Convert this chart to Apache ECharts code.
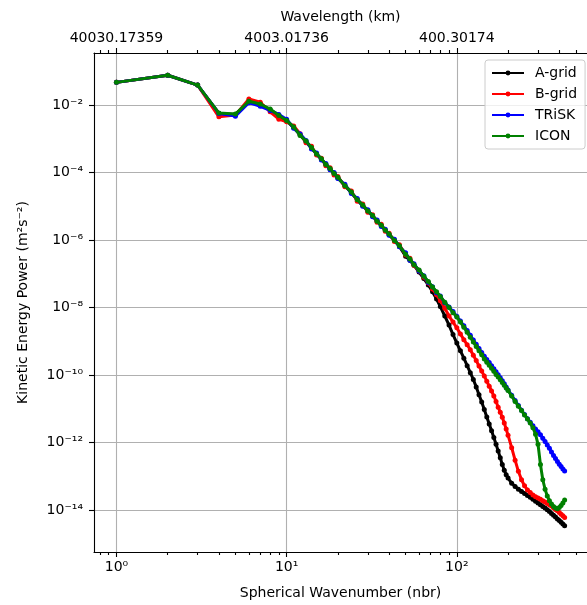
<!DOCTYPE html>
<html><head><meta charset="utf-8">
<script src="https://cdn.jsdelivr.net/npm/echarts@6/dist/echarts.min.js"></script>
<style>html,body{margin:0;padding:0;background:#fff}#c{width:587px;height:605px}</style>
</head><body><div id="c"></div>
<script>
// Spherical wavenumbers (x)
const wavenumbers = [1,2,3,4,5,6,7,8,9,10,11,12,13,14,15,16,17,18,19,20,22,24,26,28,30,32,34,36,38,40,43,46,50,53,56,60,64,68,72,76,80,85,90,95,100,105,110,115,120,125,130,135,140,145,150,155,160,165,170,175,180,185,190,195,200,210,220,230,240,250,260,270,280,290,300,310,320,330,340,350,360,370,380,390,400,410,420,430];

// log10 of kinetic energy power
const aGridLog = [-1.33,-1.12,-1.41,-2.25,-2.28,-1.90,-1.98,-2.14,-2.33,-2.47,-2.67,-2.89,-3.09,-3.28,-3.45,-3.61,-3.76,-3.90,-4.03,-4.16,
-4.39,-4.60,-4.81,-4.98,-5.14,-5.29,-5.44,-5.58,-5.71,-5.84,
-6.01,-6.19,-6.48,-6.60,-6.75,-6.95,-7.14,-7.33,-7.53,-7.75,-7.97,-8.25,-8.52,-8.80,
-9.05,-9.28,-9.50,-9.72,-9.93,-10.13,-10.35,-10.58,-10.80,-11.02,-11.24,-11.45,-11.65,-11.85,-12.05,-12.25,-12.45,-12.65,-12.82,-12.95,-13.05,
-13.20,-13.30,-13.38,-13.45,-13.51,-13.57,-13.62,-13.68,-13.74,-13.79,-13.84,-13.89,-13.94,-13.99,-14.04,-14.10,-14.15,-14.20,-14.26,-14.31,-14.36,-14.41,-14.46];

const bGridLog = [-1.33,-1.12,-1.41,-2.35,-2.30,-1.82,-1.92,-2.20,-2.42,-2.50,-2.62,-2.85,-3.12,-3.22,-3.48,-3.58,-3.80,-3.86,-4.07,-4.12,
-4.42,-4.55,-4.85,-4.93,-5.18,-5.25,-5.47,-5.53,-5.74,-5.80,
-6.04,-6.14,-6.44,-6.54,-6.75,-6.92,-7.10,-7.27,-7.45,-7.62,-7.80,-8.02,-8.25,-8.43,
-8.60,-8.78,-8.95,-9.10,-9.25,-9.41,-9.57,-9.73,-9.88,-10.03,-10.18,-10.33,-10.47,-10.62,-10.78,-10.95,-11.10,-11.25,-11.42,-11.60,-11.78,
-12.15,-12.52,-12.85,-13.10,-13.28,-13.40,-13.48,-13.55,-13.60,-13.64,-13.68,-13.72,-13.76,-13.80,-13.84,-13.88,-13.93,-13.98,-14.02,-14.07,-14.12,-14.17,-14.22];

const triskLog = [-1.33,-1.12,-1.41,-2.25,-2.33,-1.93,-2.04,-2.16,-2.28,-2.42,-2.69,-2.86,-3.05,-3.30,-3.42,-3.63,-3.73,-3.92,-4.00,-4.18,
-4.35,-4.62,-4.77,-5.00,-5.10,-5.31,-5.41,-5.60,-5.68,-5.86,
-5.98,-6.20,-6.38,-6.60,-6.70,-6.92,-7.06,-7.26,-7.38,-7.56,-7.66,-7.86,-7.98,-8.12,
-8.26,-8.40,-8.54,-8.68,-8.82,-8.96,-9.09,-9.21,-9.33,-9.44,-9.54,-9.63,-9.72,-9.81,-9.90,-9.99,-10.08,-10.17,-10.26,-10.35,-10.44,
-10.60,-10.75,-10.90,-11.04,-11.17,-11.29,-11.40,-11.50,-11.60,-11.68,-11.77,-11.87,-11.97,-12.07,-12.17,-12.28,-12.38,-12.47,-12.56,-12.64,-12.71,-12.78,-12.84];

const iconLog = [-1.33,-1.12,-1.41,-2.24,-2.27,-1.89,-1.97,-2.12,-2.31,-2.46,-2.65,-2.90,-3.07,-3.26,-3.45,-3.59,-3.76,-3.88,-4.03,-4.14,
-4.39,-4.58,-4.81,-4.96,-5.14,-5.27,-5.44,-5.56,-5.71,-5.82,
-6.01,-6.17,-6.42,-6.56,-6.73,-6.89,-7.07,-7.23,-7.39,-7.53,-7.67,-7.84,-8.00,-8.15,
-8.28,-8.43,-8.58,-8.73,-8.88,-9.02,-9.15,-9.28,-9.40,-9.52,-9.62,-9.71,-9.80,-9.89,-9.98,-10.06,-10.14,-10.22,-10.30,-10.38,-10.46,
-10.62,-10.78,-10.92,-11.05,-11.18,-11.30,-11.42,-11.56,-11.75,-12.05,-12.65,-13.10,-13.38,-13.58,-13.72,-13.82,-13.89,-13.94,-13.96,-13.92,-13.86,-13.79,-13.70];

const seriesNames = ['A-grid','B-grid','TRiSK','ICON'];
const seriesColors = ['#000000','#ff0000','#0000ff','#008000'];

// Ticks and labels
const xMajorTicks = [1,10,100];
const xMajorLabels = ['10⁰','10¹','10²'];
const xMinorTicks = [0.8,0.9,2,3,4,5,6,7,8,9,20,30,40,50,60,70,80,90,200,300,400,500];
const topLabels = ['40030.17359','4003.01736','400.30174'];
const yTicks = [1e-14,1e-12,1e-10,1e-8,1e-6,1e-4,1e-2];
const yLabels = ['10⁻¹⁴','10⁻¹²','10⁻¹⁰','10⁻⁸','10⁻⁶','10⁻⁴','10⁻²'];

const FONT = 'DejaVu Sans';
const X_MIN = 0.738, X_MAX = 582;
const Y_MIN = Math.pow(10,-15.24), Y_MAX = Math.pow(10,-0.46);

function findIdx(arr, v){
  for (let i=0;i<arr.length;i++){ if (Math.abs(Math.log10(arr[i]) - Math.log10(v)) < 1e-6) return i; }
  return -1;
}
const axisLineStyle = {color:'#000', width:1.1};
const txt = {fontFamily: FONT, fontSize: 14, color:'#000'};

function xAxisDef(pos, major){
  const a = {
    type:'log', logBase:10, position:pos, min:X_MIN, max:X_MAX, gridIndex:0,
    axisLine:{show: major, onZero:false, lineStyle:axisLineStyle},
    minorTick:{show:false}, minorSplitLine:{show:false}
  };
  if (major){
    a.axisTick = {show:true, inside:false, length:5, lineStyle:{color:'#000',width:1.1}, customValues:xMajorTicks};
    a.axisLabel = Object.assign({show:true, margin:8, customValues:xMajorTicks,
      formatter: v => { const i = findIdx(xMajorTicks, v); return i<0 ? '' : (pos==='top' ? topLabels[i] : xMajorLabels[i]); }}, txt);
    a.splitLine = {show: pos==='bottom', lineStyle:{color:'#b0b0b0', width:1.1}};
    a.nameLocation = 'middle';
    a.nameTextStyle = Object.assign({}, txt);
    if (pos==='bottom'){ a.name = 'Spherical Wavenumber (nbr)'; a.nameGap = 34; }
    else { a.name = 'Wavelength (km)'; a.nameGap = 29; }
  } else {
    a.axisTick = {show:true, inside:false, length:3, lineStyle:{color:'#000',width:1.1}, customValues:xMinorTicks};
    a.axisLabel = {show:false};
    a.splitLine = {show:false};
  }
  return a;
}

const chart = echarts.init(document.getElementById('c'), null, {renderer:'canvas'});
const logs = [aGridLog, bGridLog, triskLog, iconLog];
chart.setOption({
  animation:false,
  backgroundColor:'#fff',
  grid:{left:94, top:53, width:495.6, height:500.6},
  xAxis:[xAxisDef('bottom',true), xAxisDef('bottom',false), xAxisDef('top',true), xAxisDef('top',false)],
  yAxis:[{
    type:'log', logBase:10, position:'left', min:Y_MIN, max:Y_MAX,
    axisLine:{show:true, onZero:false, lineStyle:axisLineStyle},
    axisTick:{show:true, inside:false, length:5, lineStyle:{color:'#000',width:1.1}, customValues:yTicks},
    axisLabel:Object.assign({margin:11, customValues:yTicks,
      formatter: v => { const i = findIdx(yTicks, v); return i<0 ? '' : yLabels[i]; }}, txt),
    splitLine:{show:true, lineStyle:{color:'#b0b0b0', width:1.1}},
    minorTick:{show:false},
    name:'Kinetic Energy Power (m²s⁻²)', nameLocation:'middle', nameGap:64, nameRotate:90,
    nameTextStyle:Object.assign({}, txt)
  }],
  legend:{
    orient:'vertical', left:485, top:60,
    data: seriesNames,
    itemWidth:32, itemHeight:6, itemGap:7,
    padding:[6,8,6,6],
    borderColor:'#cccccc', borderWidth:1, borderRadius:3,
    backgroundColor:'rgba(255,255,255,0.8)',
    textStyle:Object.assign({padding:[0,0,0,6]}, txt)
  },
  series: seriesNames.map((n,si)=>({
    name:n, type:'line', xAxisIndex:0, yAxisIndex:0,
    data: wavenumbers.map((k,i)=>[k, Math.pow(10, logs[si][i])]),
    symbol:'circle', symbolSize:5, showSymbol:true,
    lineStyle:{color:seriesColors[si], width:3},
    itemStyle:{color:seriesColors[si], borderWidth:0},
    color:seriesColors[si],
    z: 2+si
  }))
});
</script></body></html>
